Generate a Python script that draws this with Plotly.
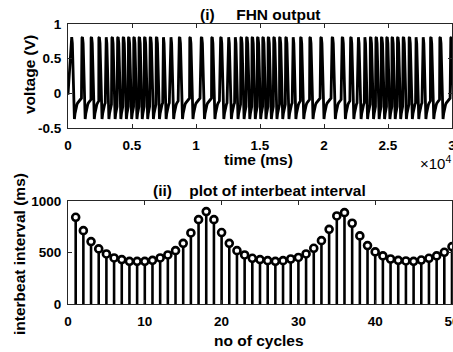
import plotly.graph_objects as go

# ---------------- data ----------------
# interbeat intervals (ms) for cycles 1..53 (cycles > 50 lie beyond the lower axis)
cycles = list(range(1, 54))
intervals = [842, 712, 606, 535, 486, 447, 431, 414, 414, 414,
             424, 447, 476, 518, 589, 690, 819, 897, 819, 694,
             589, 518, 476, 444, 431, 421, 414, 421, 437, 452,
             486, 541, 615, 725, 855, 887, 784, 661, 567, 506,
             467, 437, 424, 418, 414, 427, 444, 467, 502, 557,
             615, 725, 855]

first_spike_ms = 250
start_voltage = -0.02
# one FHN action-potential shape: time after spike onset (ms), voltage (V)
shape_t = [0, 40, 90, 140, 190, 225, 250, 300, 350, 400, 450, 500, 600, 700, 800, 900, 1000]
shape_v = [0.80, 0.81, 0.72, 0.45, 0.05, -0.25, -0.37, -0.29, -0.23, -0.19,
           -0.16, -0.14, -0.11, -0.09, -0.07, -0.06, -0.05]

x_ticks_time = [0, 5000, 10000, 15000, 20000, 25000, 30000]
x_tick_text_time = ["0", "0.5", "1", "1.5", "2", "2.5", "3"]
y_ticks_v = [-0.5, 0, 0.5, 1]
y_tick_text_v = ["-0.5", "0", "0.5", "1"]
x_ticks_cyc = [0, 10, 20, 30, 40, 50]
y_ticks_ibi = [0, 500, 1000]

# ---------------- build trace ----------------
spikes = [first_spike_ms]
for iv in intervals:
    spikes.append(spikes[-1] + iv)

tx = [0]
vy = [start_voltage]
for k, s in enumerate(spikes):
    nxt = spikes[k + 1] if k + 1 < len(spikes) else s + shape_t[-1] + 1
    for t, v in zip(shape_t, shape_v):
        if s + t < nxt:
            tx.append(s + t)
            vy.append(v)

stem_x, stem_y = [], []
for c, iv in zip(cycles, intervals):
    stem_x += [c, c, None]
    stem_y += [0, iv, None]

W, H = 453, 352
FONT = "Liberation Sans, Arial, Helvetica, sans-serif"
AX = "#262626"

fig = go.Figure()
fig.add_trace(go.Scatter(x=tx, y=vy, mode="lines",
                         line=dict(color="black", width=2.8),
                         xaxis="x", yaxis="y", showlegend=False, hoverinfo="skip"))
fig.add_trace(go.Scatter(x=stem_x, y=stem_y, mode="lines",
                         line=dict(color="black", width=2.6),
                         xaxis="x2", yaxis="y2", showlegend=False, hoverinfo="skip"))
fig.add_trace(go.Scatter(x=cycles, y=intervals, mode="markers",
                         marker=dict(symbol="circle", size=7, color="white",
                                     line=dict(color="black", width=2.6)),
                         xaxis="x2", yaxis="y2", showlegend=False))

tickfont = dict(family=FONT, size=13.5, color="black", weight="bold")
common = dict(showline=True, linecolor=AX, linewidth=1, mirror="ticks",
              ticks="inside", ticklen=4, tickwidth=1, tickcolor=AX,
              showgrid=False, zeroline=False, tickfont=tickfont, automargin=False)

fig.update_layout(
    width=W, height=H,
    margin=dict(l=0, r=0, t=0, b=0, autoexpand=False),
    paper_bgcolor="white", plot_bgcolor="white",
    xaxis=dict(domain=[68 / W, 452 / W], range=[0, 30000], anchor="y",
               tickvals=x_ticks_time, ticktext=x_tick_text_time,
               ticklabelstandoff=5, ticklabeloverflow="allow", **common),
    yaxis=dict(domain=[(H - 128) / H, (H - 24) / H], range=[-0.5, 1], anchor="x",
               tickvals=y_ticks_v, ticktext=y_tick_text_v, ticklabelstandoff=3, **common),
    xaxis2=dict(domain=[68 / W, 452 / W], range=[0, 50], anchor="y2",
                tickvals=x_ticks_cyc, ticklabelstandoff=5, ticklabeloverflow="allow", **common),
    yaxis2=dict(domain=[(H - 304) / H, (H - 201) / H], range=[0, 1000], anchor="x2",
                tickvals=y_ticks_ibi, ticklabelstandoff=3, **common),
)

labfont = dict(family=FONT, size=15.5, color="black", weight="bold")
sp = "\u00a0" * 5


def ann(text, x, y, angle=0, size=15.5, xanchor="center", weight="bold"):
    f = dict(labfont)
    f["size"] = size
    f["weight"] = weight
    fig.add_annotation(text=text, x=x / W, y=(H - y) / H, xref="paper", yref="paper",
                       showarrow=False, textangle=angle, font=f,
                       xanchor=xanchor, yanchor="middle")


ann("(i)" + sp + "FHN output", 260, 15)
ann("time (ms)", 258, 159)
ann("\u00d710<sup>4</sup>", 453, 163, size=15, xanchor="right", weight="normal")
ann("voltage (V)", 30, 75, angle=-90)
ann("(ii)" + "\u00a0" * 4 + "plot of interbeat interval", 259, 190)
ann("interbeat interval (ms)", 19, 254, angle=-90)
ann("no of cycles", 259, 340)

fig.write_html("out.html", config={"displayModeBar": False},
               post_script="document.body.style.margin='0';document.body.style.overflow='hidden';")
